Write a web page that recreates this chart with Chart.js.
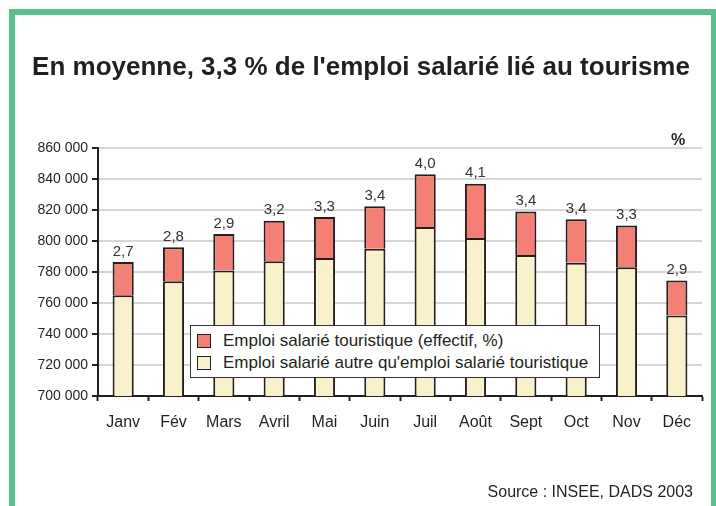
<!DOCTYPE html>
<html>
<head>
<meta charset="utf-8">
<script src="https://cdn.jsdelivr.net/npm/chart.js@4"></script>
<style>
  body { margin: 0; background: #fff; font-family: "Liberation Sans", Arial, sans-serif; color: #231f20; }
  #wrap { position: relative; width: 716px; height: 506px; overflow: hidden; }
  #cadre { position: absolute; left: 9px; top: 9px; width: 696px; height: 510px; border: 6px solid #5cbf8f; border-bottom: none; }
  #graph { position: absolute; left: 0; top: 0; }
  #titre { position: absolute; left: 0; top: 51px; width: 722px; text-align: center; font-weight: bold; font-size: 26px; line-height: 30px; }
  #unite { position: absolute; left: 671px; top: 131px; font-weight: bold; font-size: 16px; }
  #source { position: absolute; right: 23px; top: 483px; font-size: 16px; }
  #legende { position: absolute; left: 190px; top: 325px; width: 408px; height: 51px; border: 1px solid #333; background: #fff; font-size: 17px; }
  .item { position: absolute; left: 6px; height: 18px; line-height: 18px; white-space: nowrap; }
  .carre { display: inline-block; width: 12px; height: 12px; border: 1.5px solid #231f20; vertical-align: -2px; margin-right: 12px; }
</style>
</head>
<body>
<div id="wrap">
  <div id="cadre"></div>
  <canvas id="graph" width="716" height="506"></canvas>
  <div id="titre">En moyenne, 3,3 % de l'emploi salarié lié au tourisme</div>
  <div id="unite">%</div>
  <div id="legende"></div>
  <div id="source">Source : INSEE, DADS 2003</div>
</div>
<script>
// Données
const mois = ['Janv', 'Fév', 'Mars', 'Avril', 'Mai', 'Juin', 'Juil', 'Août', 'Sept', 'Oct', 'Nov', 'Déc'];
const emploiAutre = [765000, 774000, 781000, 787000, 789000, 795000, 809000, 802000, 791000, 786000, 783000, 752000];
const emploiTouristique = [21500, 22000, 23500, 26000, 26500, 27500, 34000, 35000, 28000, 28000, 27000, 22500];
const partTourisme = ['2,7', '2,8', '2,9', '3,2', '3,3', '3,4', '4,0', '4,1', '3,4', '3,4', '3,3', '2,9'];

const couleurTour = '#f47f75';
const couleurAutre = '#f9f1cc';
const trait = '#231f20';
const police = '"Liberation Sans", Arial, sans-serif';

// Légende en HTML
const legende = document.getElementById('legende');
[['Emploi salarié touristique (effectif, %)', couleurTour], ["Emploi salarié autre qu'emploi salarié touristique", couleurAutre]].forEach((it, i) => {
    const d = document.createElement('div');
    d.className = 'item';
    d.style.top = (6 + i * 22) + 'px';
    d.innerHTML = `<span class="carre" style="background:${it[1]}"></span>${it[0]}`;
    legende.appendChild(d);
});

// Pourcentages au-dessus des barres
const etiquettes = {
    id: 'etiquettes',
    afterDatasetsDraw(chart) {
        const ctx = chart.ctx;
        const meta = chart.getDatasetMeta(1);
        ctx.save();
        ctx.font = '15px ' + police;
        ctx.fillStyle = '#333';
        ctx.textAlign = 'center';
        ctx.textBaseline = 'bottom';
        meta.data.forEach((bar, i) => {
            ctx.fillText(partTourisme[i], bar.x, bar.y - 3);
        });
        ctx.restore();
    }
};

new Chart(document.getElementById('graph'), {
    type: 'bar',
    data: {
        labels: mois,
        datasets: [{
            label: "Emploi salarié autre qu'emploi salarié touristique",
            data: emploiAutre,
            backgroundColor: couleurAutre,
            borderColor: trait,
            borderWidth: 2
        }, {
            label: 'Emploi salarié touristique (effectif, %)',
            data: emploiTouristique,
            backgroundColor: couleurTour,
            borderColor: trait,
            borderWidth: 2
        }]
    },
    options: {
        responsive: false,
        devicePixelRatio: 1,
        animation: false,
        datasets: { bar: { barPercentage: 0.42, categoryPercentage: 1 } },
        layout: { padding: { left: 0, top: 148, right: 14, bottom: 70 } },
        plugins: { legend: { display: false }, tooltip: { enabled: false } },
        scales: {
            x: {
                stacked: true,
                afterFit: s => { s.height = 40; },
                grid: { display: true, drawOnChartArea: false, offset: true, tickLength: 5, tickColor: trait, tickWidth: 2 },
                border: { color: trait, width: 2 },
                ticks: { color: '#231f20', font: { family: police, size: 16 }, padding: 12 }
            },
            y: {
                stacked: true,
                min: 700000,
                max: 860000,
                afterFit: s => { s.width = 98; },
                grid: { color: '#d6d6d6', lineWidth: 2, tickLength: 6, tickColor: trait, tickWidth: 2 },
                border: { color: trait, width: 2 },
                ticks: {
                    stepSize: 20000,
                    color: '#231f20',
                    padding: 4,
                    font: { family: police, size: 14 },
                    callback: v => Math.round(v / 1000) + ' 000'
                }
            }
        }
    },
    plugins: [etiquettes]
});
</script>
</body>
</html>
